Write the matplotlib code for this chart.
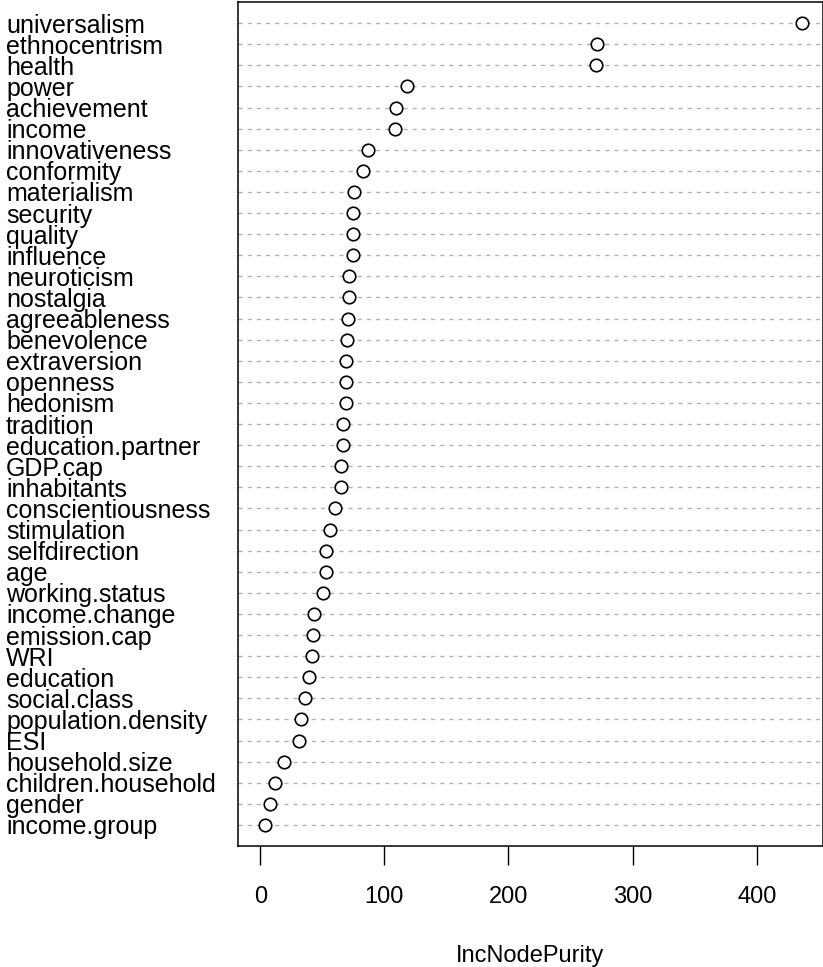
import matplotlib
matplotlib.use("Agg")
import matplotlib.pyplot as plt
from matplotlib.transforms import blended_transform_factory, ScaledTranslation

plt.rcParams["font.family"] = ["Liberation Sans", "DejaVu Sans"]
plt.rcParams["lines.scale_dashes"] = False

# Variable importance from a random forest (sorted, most important first)
variables = [
    "universalism", "ethnocentrism", "health", "power", "achievement", "income",
    "innovativeness", "conformity", "materialism", "security", "quality",
    "influence", "neuroticism", "nostalgia", "agreeableness", "benevolence",
    "extraversion", "openness", "hedonism", "tradition", "education.partner",
    "GDP.cap", "inhabitants", "conscientiousness", "stimulation",
    "selfdirection", "age", "working.status", "income.change", "emission.cap",
    "WRI", "education", "social.class", "population.density", "ESI",
    "household.size", "children.household", "gender", "income.group",
]
purity = [
    436.3, 271.3, 270.3, 118.0, 109.3, 108.3,
    87.0, 82.8, 75.2, 74.9, 74.7,
    74.4, 71.7, 71.7, 70.4, 69.6,
    69.3, 68.8, 68.8, 66.9, 66.4,
    65.3, 65.3, 60.2, 56.2,
    52.7, 52.7, 50.3, 43.0, 42.5,
    41.9, 39.0, 35.8, 32.6, 31.4,
    19.1, 12.1, 8.1, 3.5,
]
xticks = [0, 100, 200, 300, 400]

W, H = 823, 967
DPI = 100
fig = plt.figure(figsize=(W / DPI, H / DPI), dpi=DPI)
ax = fig.add_axes([238.3 / W, 1 - 846 / H, (822.6 - 238.3) / W, (846 - 2) / H])

n = len(variables)
ypos = [n - i for i in range(n)]

for y in ypos:
    ax.axhline(y, color="#b3b3b3", lw=1.0, linestyle=(0, (3.0, 3.6)), zorder=1)

ax.plot(purity, ypos, linestyle="none", marker="o", markersize=9.0,
        markerfacecolor="white", markeredgecolor="black", markeredgewidth=1.2,
        zorder=3)

ax.set_xlim(-17.7, 453.1)
ax.set_ylim(0, n + 1)
ax.set_yticks([])
ax.set_xticks(xticks)
ax.tick_params(axis="x", length=13.5, width=1.0, pad=15, labelsize=17)
for sp in ax.spines.values():
    sp.set_linewidth(1.1)

# Variable names, left aligned in the margin
label_tr = blended_transform_factory(fig.transFigure, ax.transData) + \
    ScaledTranslation(0, -9.5 / DPI, fig.dpi_scale_trans)
for name, y in zip(variables, ypos):
    ax.text(6 / W, y, name, transform=label_tr, ha="left", va="baseline",
            fontsize=18)

fig.text((238.3 + 822.6) / 2 / W, 1 - 962 / H, "IncNodePurity",
         ha="center", va="baseline", fontsize=17)

fig.savefig("out.png", dpi=DPI)
